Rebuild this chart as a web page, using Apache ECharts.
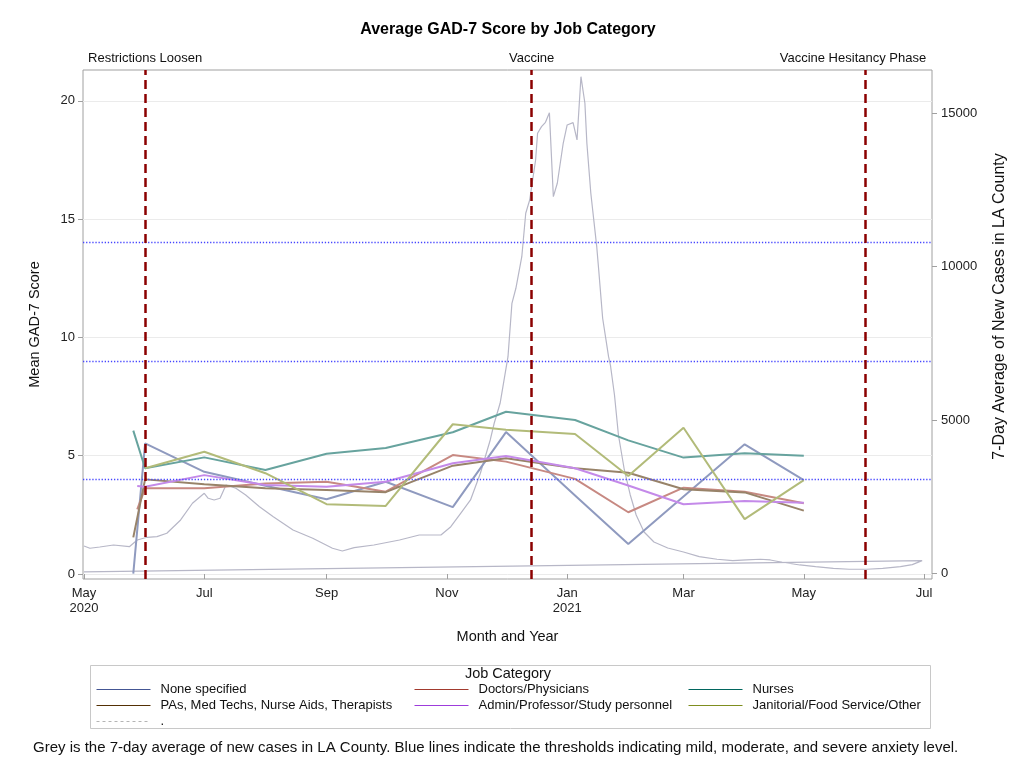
<!DOCTYPE html>
<html>
<head>
<meta charset="utf-8">
<title>Average GAD-7 Score by Job Category</title>
<script src="https://cdn.jsdelivr.net/npm/echarts@6/dist/echarts.min.js"></script>
<style>
  html, body { margin: 0; padding: 0; background: #fff; }
  #chart { width: 1016px; height: 771px; }
</style>
</head>
<body>
<div id="chart"></div>
<script>
// Survey waves (monthly) and the mean GAD-7 score of each job category
const surveyDates = ['2020-06-01', '2020-07-01', '2020-08-01', '2020-09-01', '2020-10-01', '2020-11-04',
                     '2020-12-01', '2021-01-05', '2021-02-01', '2021-03-01', '2021-04-01', '2021-05-01'];

const categoryNames = ['None specified', 'Doctors/Physicians', 'Nurses',
                       'PAs, Med Techs, Nurse Aids, Therapists', 'Admin/Professor/Study personnel',
                       'Janitorial/Food Service/Other'];
const categoryColors = ['#445694', '#A23A2E', '#01665E', '#543005', '#9D3CDB', '#7F8E1F'];

// first (pilot) response for the categories that have one
const firstDates  = ['2020-05-26', '2020-05-28', '2020-05-26', '2020-05-26', '2020-05-28', null];
const firstValues = [0.02, 2.73, 6.06, 1.55, 3.72, null];

const noneSpecified = [5.52, 4.32, 3.73, 3.16, 3.90, 2.83, 6.00, 3.32, 1.27, 3.28, 5.48, 3.97];
const doctors       = [3.62, 3.62, 3.83, 3.90, 3.48, 5.03, 4.75, 4.02, 2.61, 3.65, 3.48, 2.99];
const nurses        = [4.47, 4.93, 4.40, 5.08, 5.33, 5.99, 6.86, 6.51, 5.65, 4.92, 5.10, 5.00];
const alliedHealth  = [4.00, 3.79, 3.62, 3.55, 3.46, 4.58, 4.89, 4.47, 4.28, 3.58, 3.45, 2.68];
const adminStaff    = [3.69, 4.18, 3.76, 3.69, 3.90, 4.68, 4.99, 4.47, 3.74, 2.95, 3.09, 3.01];
const janitorial    = [4.47, 5.17, 4.26, 2.95, 2.88, 6.33, 6.10, 5.92, 4.14, 6.18, 2.32, 3.97];
const categoryValues = [noneSpecified, doctors, nurses, alliedHealth, adminStaff, janitorial];

// 7-day average of new COVID-19 cases in LA County (last row wraps back to the start)
const caseDates = ['2020-05-01', '2020-05-04', '2020-05-09', '2020-05-16', '2020-05-24', '2020-05-28',
  '2020-06-02', '2020-06-07', '2020-06-12', '2020-06-19', '2020-06-25', '2020-07-01', '2020-07-03',
  '2020-07-06', '2020-07-09', '2020-07-12', '2020-07-17', '2020-07-22', '2020-07-29', '2020-08-05',
  '2020-08-15', '2020-08-25', '2020-09-04', '2020-09-09', '2020-09-15', '2020-09-25', '2020-10-08',
  '2020-10-18', '2020-10-29', '2020-11-03', '2020-11-08', '2020-11-13', '2020-11-18', '2020-11-23',
  '2020-11-25', '2020-11-28', '2020-12-02', '2020-12-04', '2020-12-06', '2020-12-09', '2020-12-11',
  '2020-12-13', '2020-12-16', '2020-12-17', '2020-12-19', '2020-12-21', '2020-12-23', '2020-12-25',
  '2020-12-27', '2020-12-30', '2021-01-01', '2021-01-04', '2021-01-06', '2021-01-08', '2021-01-10',
  '2021-01-11', '2021-01-13', '2021-01-16', '2021-01-17', '2021-01-19', '2021-01-22', '2021-01-23',
  '2021-01-25', '2021-01-27', '2021-01-30', '2021-02-02', '2021-02-05', '2021-02-09', '2021-02-14',
  '2021-02-21', '2021-03-01', '2021-03-09', '2021-03-18', '2021-03-26', '2021-04-02', '2021-04-09',
  '2021-04-14', '2021-04-20', '2021-04-29', '2021-05-07', '2021-05-16', '2021-05-24', '2021-06-02',
  '2021-06-10', '2021-06-19', '2021-06-25', '2021-06-30', '2020-05-01'];
const caseValues = [896, 821, 863, 928, 873, 1091,
  1179, 1199, 1309, 1743, 2287, 2612, 2450,
  2394, 2450, 2883, 2775, 2557, 2176, 1850,
  1417, 1147, 821, 733, 840, 928, 1091,
  1254, 1254, 1524, 1961, 2394, 3264, 4349,
  4893, 5544, 7062, 8801, 9290, 10319, 11733,
  12166, 13469, 14339, 14554, 14697, 15010, 12274,
  12710, 14013, 14609, 14684, 14121, 16182, 15316,
  14013, 12384, 10645, 9886, 8313, 7062, 6759,
  5814, 4511, 3371, 2557, 1906, 1352, 1026,
  831, 700, 547, 463, 417, 440, 463,
  440, 365, 277, 221, 169, 137, 137,
  169, 221, 287, 417, 50];

// anxiety thresholds (mild, moderate, severe) and pandemic milestones
const thresholds = [4, 9, 14];
const eventDates = ['2020-06-01', '2020-12-14', '2021-06-01'];
const eventLabels = ['Restrictions Loosen', 'Vaccine', 'Vaccine Hesitancy Phase'];

// axis ticks
const monthTicks = ['2020-05-01', '2020-07-01', '2020-09-01', '2020-11-01', '2021-01-01',
                    '2021-03-01', '2021-05-01', '2021-07-01'];
const monthNames = ['Jan', 'Feb', 'Mar', 'Apr', 'May', 'Jun', 'Jul', 'Aug', 'Sep', 'Oct', 'Nov', 'Dec'];
const scoreTicks = [0, 5, 10, 15, 20];
const caseTicks = [0, 5000, 10000, 15000];

const FONT = '"Liberation Sans", Arial, Helvetica, sans-serif';
const TICK_SIZE = 13;
const NAME_SIZE = 14.5;

function toTime(s) {
  const p = s.split('-').map(Number);
  return new Date(p[0], p[1] - 1, p[2]).getTime();
}

// plot strokes are drawn as a lighter tint of the legend colour
function tint(hex, alpha) {
  const n = parseInt(hex.slice(1), 16);
  const ch = [(n >> 16) & 255, (n >> 8) & 255, n & 255].map(c => Math.round(255 - (255 - c) * alpha));
  return 'rgb(' + ch.join(',') + ')';
}

const series = [];

series.push({
  name: '.',
  type: 'line',
  yAxisIndex: 1,
  symbol: 'none',
  z: 1,
  lineStyle: { color: '#b7b7c7', width: 1.2 },
  itemStyle: { color: '#b7b7c7' },
  data: caseDates.map((d, i) => [toTime(d), caseValues[i]])
});

categoryNames.forEach((name, k) => {
  const data = [];
  if (firstDates[k]) data.push([toTime(firstDates[k]), firstValues[k]]);
  surveyDates.forEach((d, i) => data.push([toTime(d), categoryValues[k][i]]));
  const s = {
    name: name,
    type: 'line',
    symbol: 'none',
    z: 3,
    lineStyle: { color: tint(categoryColors[k], 0.6), width: 2 },
    itemStyle: { color: categoryColors[k] },
    data: data
  };
  if (k === 0) {
    s.markLine = {
      silent: true,
      symbol: 'none',
      animation: false,
      data: thresholds.map(v => ({
        yAxis: v,
        label: { show: false },
        lineStyle: { color: '#4646ff', width: 1.3, type: [1.3, 1.8], opacity: 1 }
      })).concat(eventDates.map((d, i) => ({
        xAxis: toTime(d),
        label: {
          show: true,
          position: 'end',
          distance: 5,
          formatter: eventLabels[i],
          color: '#111',
          fontFamily: FONT,
          fontSize: TICK_SIZE,
          padding: i === 2 ? [0, 24, 0, 0] : 0
        },
        lineStyle: { color: '#8B0000', width: 2.5, type: [9, 5], opacity: 1 }
      })))
    };
  }
  series.push(s);
});

function legendEntry(name) {
  const k = categoryNames.indexOf(name);
  return { name: name, lineStyle: { color: categoryColors[k], width: 1, opacity: 1 } };
}

// legend entries show the stroke only (the centre marker is hidden);
// an odd item height keeps the 1px stroke on a pixel row
const legendBase = {
  orient: 'vertical',
  top: 683,
  padding: 0,
  itemWidth: 54,
  itemHeight: 13,
  itemGap: 3,
  selectedMode: false,
  itemStyle: { opacity: 0, borderWidth: 0 },
  lineStyle: { width: 1, opacity: 1 },
  textStyle: { fontFamily: FONT, fontSize: TICK_SIZE, color: '#111', padding: [0, 0, 0, 5], lineHeight: 13 }
};

const option = {
  animation: false,
  backgroundColor: '#fff',
  textStyle: { fontFamily: FONT },
  title: [
    {
      text: 'Average GAD-7 Score by Job Category',
      left: 'center',
      top: 22,
      padding: 0,
      textStyle: { fontFamily: FONT, fontSize: 16, fontWeight: 'bold', color: '#000' }
    },
    {
      text: 'Job Category',
      left: 'center',
      top: 666,
      padding: 0,
      textStyle: { fontFamily: FONT, fontSize: NAME_SIZE, fontWeight: 'normal', color: '#111' }
    },
    {
      text: 'Grey is the 7-day average of new cases in LA County. Blue lines indicate the thresholds indicating mild, moderate, and severe anxiety level.',
      left: 33,
      top: 740,
      padding: 0,
      textStyle: { fontFamily: FONT, fontSize: 15, fontWeight: 'normal', color: '#111' }
    }
  ],
  graphic: [{
    type: 'rect',
    left: 88,
    top: 663,
    silent: true,
    shape: { width: 840, height: 63 },
    style: { fill: 'none', stroke: '#c8c8c8', lineWidth: 1 }
  }],
  legend: [
    Object.assign({}, legendBase, {
      left: 96,
      data: [legendEntry('None specified'), legendEntry('PAs, Med Techs, Nurse Aids, Therapists'),
             { name: '.', lineStyle: { type: [3, 3], color: '#b4b4b4', width: 1, opacity: 1 } }]
    }),
    Object.assign({}, legendBase, {
      left: 414,
      data: [legendEntry('Doctors/Physicians'), legendEntry('Admin/Professor/Study personnel')]
    }),
    Object.assign({}, legendBase, {
      left: 688,
      data: [legendEntry('Nurses'), legendEntry('Janitorial/Food Service/Other')]
    })
  ],
  grid: {
    left: 83,
    right: 84,
    top: 70,
    bottom: 192,
    show: true,
    borderColor: '#a0a0a0',
    borderWidth: 1,
    outerBoundsMode: 'none'
  },
  xAxis: {
    type: 'value',
    min: new Date(2020, 3, 30, 12).getTime(),
    max: new Date(2021, 6, 5, 0).getTime(),
    name: 'Month and Year',
    nameLocation: 'middle',
    nameGap: 50,
    nameTextStyle: { fontFamily: FONT, fontSize: NAME_SIZE, color: '#111' },
    axisLine: { show: false },
    axisTick: {
      show: true,
      length: 5,
      customValues: monthTicks.map(toTime),
      lineStyle: { color: '#a0a0a0' }
    },
    axisLabel: {
      customValues: monthTicks.map(toTime),
      margin: 7,
      fontFamily: FONT,
      fontSize: TICK_SIZE,
      lineHeight: 15,
      color: '#222',
      formatter: function (v) {
        const d = new Date(v);
        const m = monthNames[d.getMonth()];
        return (d.getMonth() === 0 || v === toTime(monthTicks[0])) ? m + '\n' + d.getFullYear() : m;
      }
    },
    splitLine: { show: false }
  },
  yAxis: [
    {
      type: 'value',
      position: 'left',
      min: -0.21,
      max: 21.3,
      name: 'Mean GAD-7 Score',
      nameLocation: 'middle',
      nameRotate: 90,
      nameGap: 41,
      nameTextStyle: { fontFamily: FONT, fontSize: NAME_SIZE, color: '#111' },
      axisLine: { show: false },
      axisTick: { show: true, length: 5, customValues: scoreTicks, lineStyle: { color: '#a0a0a0' } },
      axisLabel: { customValues: scoreTicks, margin: 8, fontFamily: FONT, fontSize: TICK_SIZE, color: '#222' },
      splitLine: { show: true, lineStyle: { color: '#ebebeb', width: 1 } }
    },
    {
      type: 'value',
      position: 'right',
      min: -180,
      max: 16400,
      name: '7-Day Average of New Cases in LA County',
      nameLocation: 'middle',
      nameRotate: 90,
      nameGap: 60,
      nameTextStyle: { fontFamily: FONT, fontSize: 16, color: '#111', padding: [0, 0, 0, 36] },
      axisLine: { show: false },
      axisTick: { show: true, length: 5, customValues: caseTicks, lineStyle: { color: '#a0a0a0' } },
      axisLabel: {
        customValues: caseTicks,
        margin: 9,
        fontFamily: FONT,
        fontSize: TICK_SIZE,
        color: '#222',
        formatter: v => String(v)
      },
      splitLine: { show: false }
    }
  ],
  series: series
};

const chart = echarts.init(document.getElementById('chart'), null, { renderer: 'canvas' });
chart.setOption(option);
</script>
</body>
</html>
